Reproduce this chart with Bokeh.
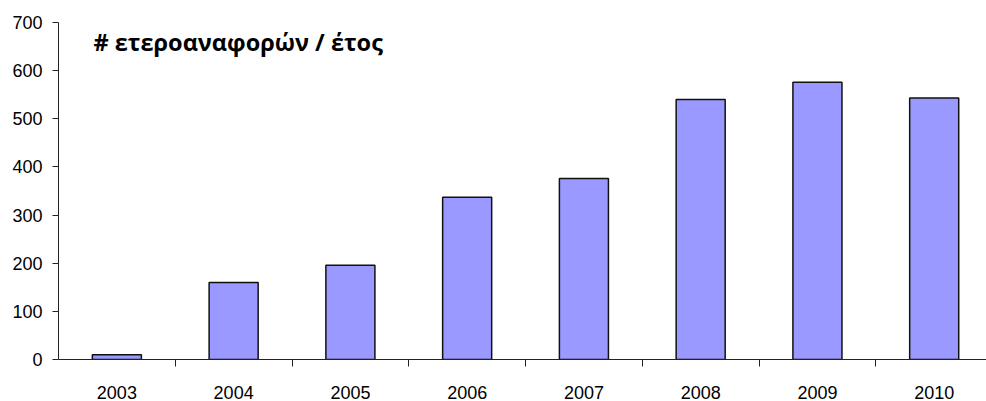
from bokeh.plotting import figure
from bokeh.models import Range1d, FixedTicker, Label, ColumnDataSource
from bokeh.embed import file_html
from bokeh.resources import INLINE

years = [2003, 2004, 2005, 2006, 2007, 2008, 2009, 2010]
counts = [10, 160, 196, 337, 376, 540, 576, 543]
y_ticks = [0, 100, 200, 300, 400, 500, 600, 700]
title_text = "# ετεροαναφορών / έτος"

src = ColumnDataSource(data=dict(x=years, top=counts))

p = figure(width=986, height=401, output_backend="svg", toolbar_location=None,
           x_range=Range1d(2002.5, 2010.448), y_range=Range1d(0, 700),
           min_border_left=58, min_border_right=0, min_border_top=22, min_border_bottom=40)
p.outline_line_color = None
p.xgrid.visible = False
p.ygrid.visible = False

p.vbar(x="x", top="top", width=0.42, bottom=0, source=src,
       fill_color="#9999FF", line_color="#111111", line_width=1.5)

xa = p.xaxis[0]
xa.ticker = FixedTicker(ticks=years, minor_ticks=[y + 0.5 for y in years[:-1]])
xa.major_label_overrides = {y: str(y) for y in years}
xa.major_tick_out = 0
xa.major_tick_in = 0
xa.minor_tick_out = 7
xa.minor_tick_in = 0
xa.minor_tick_line_color = "#222222"
xa.axis_line_color = "#222222"
xa.major_label_standoff = 19
xa.major_label_text_font = "Liberation Sans"
xa.major_label_text_font_size = "18px"
xa.major_label_text_color = "#000000"

ya = p.yaxis[0]
ya.ticker = FixedTicker(ticks=y_ticks)
ya.major_tick_out = 6
ya.major_tick_in = 0
ya.minor_tick_out = 0
ya.minor_tick_in = 0
ya.axis_line_color = "#222222"
ya.major_tick_line_color = "#222222"
ya.major_label_standoff = 10
ya.major_label_text_font = "Liberation Sans"
ya.major_label_text_font_size = "18px"
ya.major_label_text_color = "#000000"

title = Label(x=2002.8, y=660, text=title_text, text_font="Open Sans",
              text_font_style="bold", text_font_size="23.5px", text_baseline="middle",
              text_color="#000000")
p.add_layout(title)

open("out.html", "w").write(file_html(p, INLINE))
